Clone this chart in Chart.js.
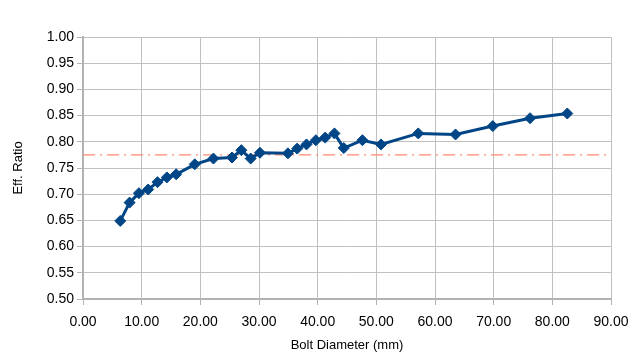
<!DOCTYPE html>
<html>
<head>
<meta charset="utf-8">
<script src="https://cdn.jsdelivr.net/npm/chart.js@4/dist/chart.umd.min.js"></script>
<style>
html,body{margin:0;padding:0;background:#fff;}
#wrap{width:640px;height:361px;position:relative;}
</style>
</head>
<body>
<div id="wrap"><canvas id="c" width="640" height="361"></canvas></div>
<script>
const boltDiameters = [6.35, 7.94, 9.53, 11.11, 12.70, 14.29, 15.88, 19.05, 22.23, 25.40, 26.99, 28.58, 30.16, 34.93, 36.51, 38.10, 39.69, 41.28, 42.86, 44.45, 47.63, 50.80, 57.15, 63.50, 69.85, 76.20, 82.55];
const effRatios    = [0.649, 0.684, 0.702, 0.709, 0.723, 0.732, 0.738, 0.757, 0.768, 0.770, 0.784, 0.768, 0.779, 0.778, 0.787, 0.795, 0.803, 0.808, 0.816, 0.788, 0.803, 0.795, 0.816, 0.814, 0.830, 0.845, 0.854];
const referenceX = [0, 90];
const referenceY = [0.775, 0.775];
const xTicks = [0, 10, 20, 30, 40, 50, 60, 70, 80, 90];
const yTicks = [0.50, 0.55, 0.60, 0.65, 0.70, 0.75, 0.80, 0.85, 0.90, 0.95, 1.00];

const mainPoints = boltDiameters.map((x, i) => ({x: x, y: effRatios[i]}));
const refPoints = referenceX.map((x, i) => ({x: x, y: referenceY[i]}));

const FONT = "'Liberation Sans', Arial, sans-serif";

new Chart(document.getElementById('c'), {
  type: 'scatter',
  data: {
    datasets: [
      {
        data: refPoints,
        showLine: true,
        borderColor: '#ff8a70',
        borderWidth: 1.2,
        borderDash: [12, 5, 2, 5],
        pointRadius: 0,
        order: 2
      },
      {
        data: mainPoints,
        showLine: true,
        borderColor: '#004586',
        backgroundColor: '#004586',
        borderWidth: 3,
        pointStyle: 'rectRot',
        pointRadius: 5.5,
        pointBorderWidth: 1,
        pointHoverRadius: 5.5,
        order: 1
      }
    ]
  },
  options: {
    responsive: false,
    animation: false,
    events: [],
    layout: { padding: { top: 37, right: 29, left: 0, bottom: 0 } },
    plugins: { legend: { display: false }, tooltip: { enabled: false } },
    scales: {
      x: {
        type: 'linear',
        min: 0, max: 90,
        afterBuildTicks: s => { s.ticks = xTicks.map(v => ({value: v})); },
        afterFit: s => { s.height = 62; },
        grid: { color: '#c0c0c0', lineWidth: 1, tickLength: 6, tickColor: '#b3b3b3' },
        border: { color: '#b3b3b3', width: 2 },
        ticks: {
          color: '#000',
          font: { family: FONT, size: 14 },
          padding: 9,
          maxRotation: 0,
          callback: v => Number(v).toFixed(2)
        },
        title: {
          display: true,
          text: 'Bolt Diameter (mm)',
          color: '#000',
          font: { family: FONT, size: 13 },
          padding: { top: 0, bottom: 8 }
        }
      },
      y: {
        type: 'linear',
        min: 0.5, max: 1.0,
        afterBuildTicks: s => { s.ticks = yTicks.map(v => ({value: v})); },
        afterFit: s => { s.width = 83; },
        grid: { color: '#c0c0c0', lineWidth: 1, tickLength: 6, tickColor: '#b3b3b3' },
        border: { color: '#b3b3b3', width: 2 },
        ticks: {
          color: '#000',
          font: { family: FONT, size: 14 },
          padding: 3,
          callback: v => Number(v).toFixed(2)
        },
        title: {
          display: true,
          text: 'Eff. Ratio',
          color: '#000',
          font: { family: FONT, size: 13 },
          padding: { top: 11, bottom: 0 }
        }
      }
    }
  }
});
</script>
</body>
</html>
